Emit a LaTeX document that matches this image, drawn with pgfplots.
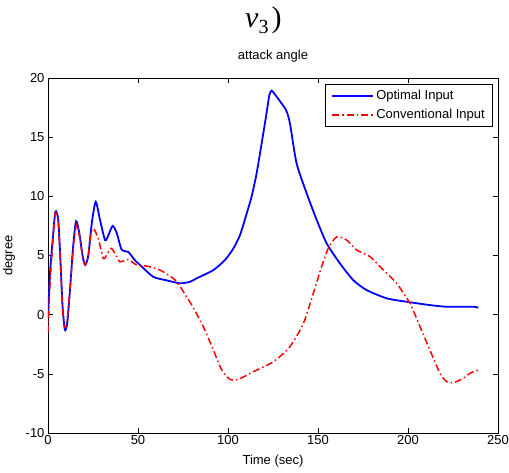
\documentclass[border=0pt]{standalone}
\usepackage{pgfplots}
\pgfplotsset{compat=1.18}
\usepackage{fontspec}
\setmainfont{Liberation Sans}
\newfontfamily\tnr{Liberation Serif}
\begin{document}
\begin{tikzpicture}
\useasboundingbox (-48pt,-39pt) rectangle (461pt,433pt);
\begin{axis}[
  at={(0,0)}, anchor=south west,
  scale only axis, width=450pt, height=355pt,
  xmin=0, xmax=250, ymin=-10, ymax=20,
  xtick={0,50,...,250}, ytick={-10,-5,...,20},
  tick align=inside, tick pos=both,
  major tick length=5pt,
  axis line style={line width=0.9pt},
  every tick/.style={black, line width=0.6pt},
  tick label style={font=\fontsize{13}{14}\selectfont},
  xticklabel style={yshift=1pt},
  /pgf/number format/assume math mode=true,
  xlabel={Time (sec)}, ylabel={degree},
  xlabel style={font=\fontsize{13}{14}\selectfont, at={(rel axis cs:0.5,0)}, anchor=center, yshift=-28.5pt},
  ylabel style={font=\fontsize{13}{14}\selectfont, at={(rel axis cs:0,0.5)}, anchor=center, yshift=39pt},
  title={attack angle},
  title style={font=\fontsize{13}{14}\selectfont, at={(rel axis cs:0.5,1)}, anchor=center, yshift=16pt},
  legend style={at={(rel axis cs:0.989,0.983)}, anchor=north east,
    font=\fontsize{13}{15}\selectfont, draw=black, line width=0.7pt,
    inner xsep=6pt, inner ysep=5pt, row sep=6pt,
    nodes={inner xsep=2pt, inner ysep=1pt}},
  legend cell align=left,
]
\addplot[blue, line width=1.8pt, smooth, tension=0.4,
  legend image code/.code={\draw[blue, line width=1.8pt] (0pt,0pt) -- (41pt,0pt);}] coordinates {
(0,-0.3) (1.1,3.5) (2.6,6.3) (4.1,8.7) (5.7,8.0) (7,4.3) (8.1,0.7) (9.4,-1.3) (10.7,-0.7) (12.2,2.1) (14.1,6.0) (15.6,7.9) (17.4,6.9) (19.3,4.9) (20.7,4.2) (22.4,5.0) (24.3,7.7) (26.5,9.55) (28.9,8.0) (31.7,6.3) (33.5,6.7) (35.9,7.5) (38.2,6.9) (40.9,5.5) (44.6,5.3) (48.3,4.6) (51.1,4.2) (58.5,3.2) (65.9,2.9) (73.3,2.65) (78.9,2.78) (82.6,3.07) (91.9,3.77) (98.3,4.62) (103,5.6) (106.7,6.73) (110.4,8.56) (113.1,9.97) (115.9,11.94) (118.7,14.48) (121.1,16.73) (123,18.56) (124.3,18.93) (127,18.42) (132.2,17.3) (134.4,16.17) (138.1,12.79) (143.7,10.25) (149.3,8.0) (154.8,6.03) (162.2,4.33) (169.6,2.92) (177,2.08) (188.2,1.38) (199.3,1.09) (212.2,0.81) (221.5,0.67) (236.3,0.67) (239,0.58)
};
\addlegendentry{Optimal Input}
\addplot[red, line width=1.5pt, dash pattern=on 7pt off 3pt on 1.5pt off 3pt, smooth, tension=0.4,
  legend image code/.code={\draw[red, line width=1.5pt, dash pattern=on 7pt off 3pt on 1.5pt off 3pt] (0pt,0pt) -- (41pt,0pt);}] coordinates {
(0,-1.5) (1.1,2.5) (2.6,6.0) (4.1,8.6) (5.7,7.8) (7,4.0) (8.1,0.5) (8.9,-1.0) (10.3,-0.8) (12.2,2.0) (14.1,5.8) (15.9,7.6) (17.6,6.5) (19.3,4.8) (20.7,4.2) (22.4,5.0) (23.8,6.8) (25.2,7.3) (27.9,6.45) (30.7,4.76) (32.6,5.04) (35,5.6) (37.2,5.18) (40,4.47) (44.6,4.67) (49.3,4.19) (54.8,4.11) (62.2,3.77) (69.6,3.07) (73.3,2.4) (77,1.5) (80.7,0.6) (86.3,-1.02) (91.9,-3.0) (96.5,-4.68) (101.1,-5.47) (105.7,-5.47) (114.1,-4.82) (125.2,-3.98) (134.4,-2.71) (141.9,-0.74) (147.4,1.8) (152,4.05) (155.7,5.6) (160.4,6.58) (165.9,6.31) (171.5,5.46) (178.9,4.9) (186.3,3.77) (193.7,2.65) (201.1,0.95) (206.7,-1.02) (212.2,-3.0) (217.8,-4.96) (221.5,-5.67) (225.2,-5.75) (230.7,-5.38) (234.4,-4.96) (239,-4.68)
};
\addlegendentry{Conventional Input}
\end{axis}
\node[anchor=base west, inner sep=0pt] at (197pt,405pt) {\fontsize{30}{32}\selectfont\tnr\itshape v\raisebox{-6pt}{\fontsize{20}{22}\selectfont\upshape 3}\hspace{3pt}\upshape)};
\end{tikzpicture}
\end{document}
